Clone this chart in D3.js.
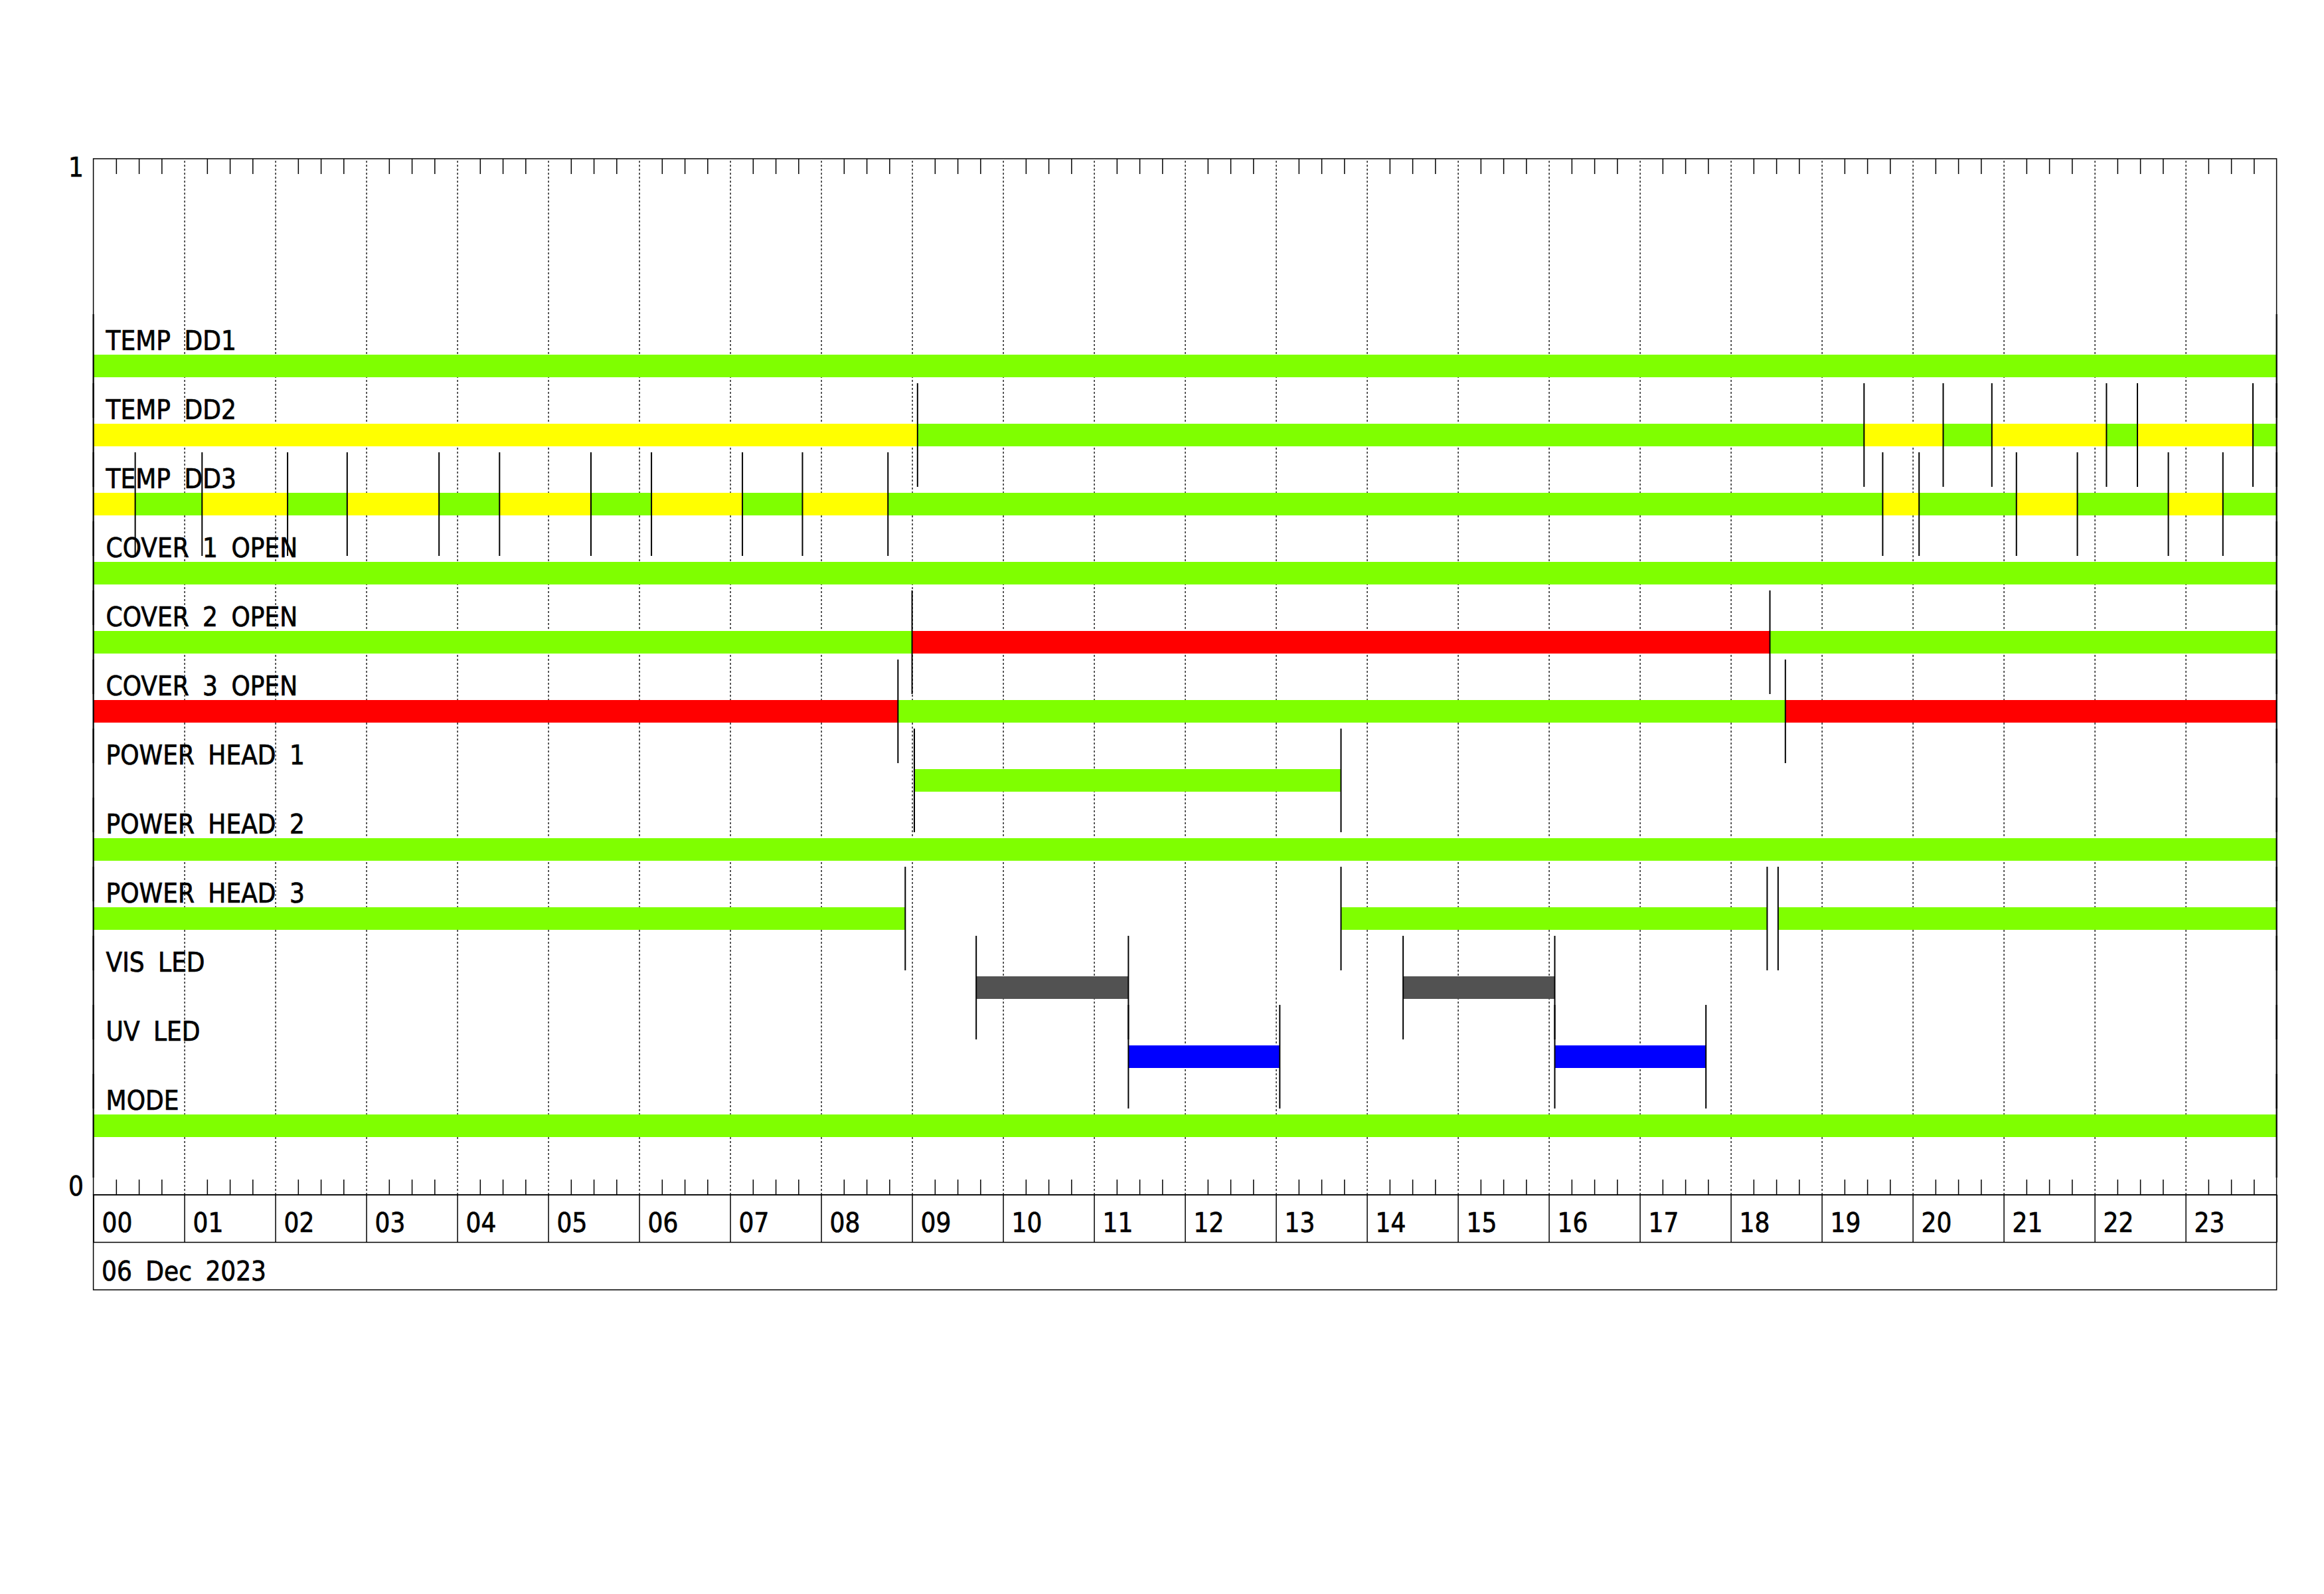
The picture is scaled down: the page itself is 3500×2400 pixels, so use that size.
<!DOCTYPE html>
<html><head><meta charset="utf-8">
<script src="https://cdn.jsdelivr.net/npm/d3@7"></script>
<style>
html,body{margin:0;padding:0;background:#fff;}
svg text{font-family:"DejaVu Sans Condensed","DejaVu Sans",sans-serif;font-stretch:condensed;font-size:40px;fill:#000;stroke:#000;stroke-width:0.7px;}
</style></head><body>
<svg id="chart" width="3500" height="2400"></svg>
<script>
// ---- data ----
const rowLabels = ["TEMP DD1","TEMP DD2","TEMP DD3","COVER 1 OPEN","COVER 2 OPEN","COVER 3 OPEN",
                   "POWER HEAD 1","POWER HEAD 2","POWER HEAD 3","VIS LED","UV LED","MODE"];
// segments: [startHour, endHour, state]
const tempDD1 = [[0,24,"ok"]];
const tempDD2 = [[0,9.06,"warn"],[9.06,19.465,"ok"],[19.465,20.335,"warn"],[20.335,20.87,"ok"],
                 [20.87,22.13,"warn"],[22.13,22.47,"ok"],[22.47,23.74,"warn"],[23.74,24,"ok"]];
const tempDD3 = [[0,0.46,"warn"],[0.46,1.195,"ok"],[1.195,2.135,"warn"],[2.135,2.79,"ok"],
                 [2.79,3.80,"warn"],[3.80,4.465,"ok"],[4.465,5.47,"warn"],[5.47,6.135,"ok"],
                 [6.135,7.135,"warn"],[7.135,7.795,"ok"],[7.795,8.735,"warn"],[8.735,19.67,"ok"],
                 [19.67,20.07,"warn"],[20.07,21.14,"ok"],[21.14,21.81,"warn"],[21.81,22.81,"ok"],
                 [22.81,23.41,"warn"],[23.41,24,"ok"]];
const cover1 = [[0,24,"ok"]];
const cover2 = [[0,9.0,"ok"],[9.0,18.43,"alarm"],[18.43,24,"ok"]];
const cover3 = [[0,8.845,"alarm"],[8.845,18.60,"ok"],[18.60,24,"alarm"]];
const powerHead1 = [[0,9.025,"off"],[9.025,13.715,"ok"],[13.715,24,"off"]];
const powerHead2 = [[0,24,"ok"]];
const powerHead3 = [[0,8.925,"ok"],[8.925,13.715,"off"],[13.715,18.40,"ok"],[18.40,18.52,"off"],[18.52,24,"ok"]];
const visLed = [[0,9.705,"off"],[9.705,11.378,"vis"],[11.378,14.398,"off"],[14.398,16.065,"vis"],[16.065,24,"off"]];
const uvLed = [[0,11.378,"off"],[11.378,13.042,"uv"],[13.042,16.065,"off"],[16.065,17.727,"uv"],[17.727,24,"off"]];
const mode = [[0,24,"ok"]];
const rowSegments = [tempDD1,tempDD2,tempDD3,cover1,cover2,cover3,powerHead1,powerHead2,powerHead3,visLed,uvLed,mode];
const stateColors = {ok:"#7FFF00", warn:"#FFFF00", alarm:"#FF0000", vis:"#525252", uv:"#0000FF", off:"none"};
const yTickValues = [0, 1];
const yTickLabels = ["0", "1"];
const dayStart = Date.UTC(2023, 11, 6);

// ---- layout ----
const L = 140.6, R = 3428.6, T = 239, B = 1799;
const bandH = 71.5;
const svg = d3.select("#chart");
svg.append("rect").attr("width",3500).attr("height",2400).attr("fill","#fff");

const hourDate = h => new Date(dayStart + h * 3600e3);
const x = d3.scaleUtc().domain([hourDate(0), hourDate(24)]).range([L, R]);
const y = d3.scaleLinear().domain([0, 1]).range([B, T]);
const rowValue = i => (rowLabels.length - i) / 15;
const barH = 34, lineHalf = 0.05;

// hourly dashed gridlines
const hours = d3.utcHour.range(hourDate(0), hourDate(24.01));
const innerHours = hours.filter((d,i)=> i>0 && i<24);
svg.append("g").attr("transform",`translate(0,${B})`)
  .call(d3.axisBottom(x).tickValues(innerHours).tickSize(-(B-T)).tickFormat(""))
  .call(g=>{g.select(".domain").remove();
    g.selectAll("line").attr("stroke","#000").attr("stroke-width",1.3).attr("stroke-dasharray","3,3");});

// bars
const rowsG = svg.append("g");
rowSegments.forEach((segs, i) => {
  const cy = y(rowValue(i));
  rowsG.selectAll(null).data(segs.filter(s => s[2] !== "off")).enter().append("rect")
    .attr("x", s => x(hourDate(s[0])))
    .attr("width", s => x(hourDate(s[1])) - x(hourDate(s[0])))
    .attr("y", cy - barH/2).attr("height", barH)
    .attr("fill", s => stateColors[s[2]]).attr("shape-rendering","crispEdges");
});
// transition lines
rowSegments.forEach((segs, i) => {
  const v = rowValue(i);
  const bounds = segs.map(s => s[0]).concat([segs[segs.length-1][1]]);
  rowsG.selectAll(null).data(bounds).enter().append("line")
    .attr("x1", b => x(hourDate(b))).attr("x2", b => x(hourDate(b)))
    .attr("y1", y(v + lineHalf)).attr("y2", y(v - lineHalf))
    .attr("stroke","#000").attr("stroke-width", 2);
});
// row labels
svg.append("g").selectAll("text").data(rowLabels).enter().append("text")
  .attr("x", L + 19).attr("y", (d,i) => y(rowValue(i)) - 24)
  .style("word-spacing","9px").text(d => d);

// minor ticks (15 min) top and bottom
const quarter = d3.utcMinute.every(15).range(hourDate(0), hourDate(24)).filter(d => d.getUTCMinutes() !== 0);
svg.append("g").attr("transform",`translate(0,${T})`)
  .call(d3.axisBottom(x).tickValues(quarter).tickSize(23).tickFormat(""))
  .call(g=>{g.select(".domain").remove(); g.selectAll("line").attr("stroke","#000").attr("stroke-width",1.5);});
svg.append("g").attr("transform",`translate(0,${B})`)
  .call(d3.axisTop(x).tickValues(quarter).tickSize(23).tickFormat(""))
  .call(g=>{g.select(".domain").remove(); g.selectAll("line").attr("stroke","#000").attr("stroke-width",1.5);});

// hour label band
svg.append("g").attr("transform",`translate(0,${B})`)
  .call(d3.axisBottom(x).tickValues(hours).tickSize(bandH).tickFormat(d3.utcFormat("%H")))
  .call(g=>{g.select(".domain").remove();
    g.selectAll("line").attr("stroke","#000").attr("stroke-width",1.5);
    g.selectAll("text").attr("y",56).attr("dy",null).attr("x",12.5).attr("text-anchor","start")
      .attr("fill","#000").style("font-size","40px")
      .text(d => d.getTime() >= hourDate(24).getTime() ? "" : d3.utcFormat("%H")(d));});

// frames
svg.append("rect").attr("x",L).attr("y",T).attr("width",R-L).attr("height",B-T)
  .attr("fill","none").attr("stroke","#000").attr("stroke-width",1.5);
svg.append("rect").attr("x",L).attr("y",B).attr("width",R-L).attr("height",bandH*2)
  .attr("fill","none").attr("stroke","#000").attr("stroke-width",1.5);
svg.append("line").attr("x1",L).attr("x2",R).attr("y1",B+bandH).attr("y2",B+bandH)
  .attr("stroke","#000").attr("stroke-width",1.5);
svg.append("text").attr("x", L + 12.5).attr("y", B + bandH + 57)
  .style("word-spacing","9px").text(d3.utcFormat("%d %b %Y")(hourDate(0)));

// y axis labels
svg.append("g").selectAll("text").data(yTickValues).enter().append("text")
  .attr("x", 126).attr("text-anchor","end")
  .attr("y", v => v === 1 ? y(v) + 27 : y(v) + 1)
  .text((v,i) => yTickLabels[i]);
</script>
</body></html>
